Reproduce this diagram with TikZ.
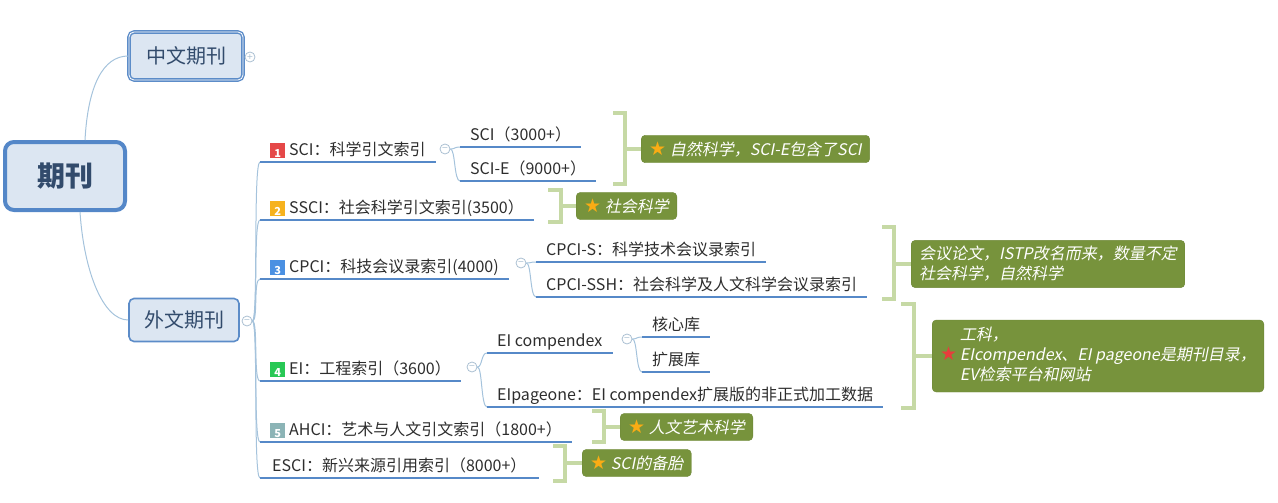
\documentclass[tikz,border=0pt]{standalone}
\usepackage{fontspec}
\usepackage{xcolor}
\setmainfont{Noto Sans CJK SC}
\newfontfamily\noteit[FakeSlant=0.2]{Noto Sans CJK SC}
\newfontfamily\symfont{DejaVu Sans}
\usetikzlibrary{positioning}
\definecolor{rootblue}{RGB}{84,135,200}
\definecolor{topicblue}{RGB}{92,140,200}
\definecolor{topicfill}{RGB}{220,230,242}
\definecolor{inktext}{RGB}{45,45,45}
\definecolor{roottext}{RGB}{50,75,108}
\definecolor{branchblue}{RGB}{165,195,220}
\definecolor{ulineblue}{RGB}{86,137,200}
\definecolor{bracegreen}{RGB}{198,217,165}
\definecolor{notegreen}{RGB}{119,147,60}
\definecolor{starorange}{RGB}{250,172,20}
\definecolor{starred}{RGB}{232,60,60}
\definecolor{badgered}{RGB}{229,72,72}
\definecolor{badgeorange}{RGB}{246,178,30}
\definecolor{badgeblue}{RGB}{74,144,226}
\definecolor{badgegreen}{RGB}{40,200,85}
\definecolor{badgeteal}{RGB}{140,180,182}
\definecolor{foldgray}{RGB}{170,192,210}
\newcommand{\badge}[2]{{\setlength{\fboxsep}{0pt}\raisebox{-1.5pt}{\colorbox{#1}{\makebox[15pt]{\rule[-0.5pt]{0pt}{15pt}\textcolor{white}{\fontsize{11}{11}\selectfont\bfseries #2}}}}}\hspace{4pt}}
\newcommand{\hstar}[1]{{\symfont\fontsize{19}{19}\selectfont\textcolor{#1}{★}}}

\begin{document}
\begin{tikzpicture}[x=1pt, y=-1pt,
    root/.style={draw=rootblue, line width=4pt, fill=topicfill, rounded corners=9pt, minimum width=120pt, minimum height=68pt, font=\fontsize{28}{32}\selectfont\bfseries, text=roottext},
    main/.style={draw=topicblue, fill=topicfill, rounded corners=5pt, font=\fontsize{20}{24}\selectfont, text=roottext},
    topic/.style={anchor=south west, inner xsep=10pt, inner ysep=3pt, text height=12pt, text depth=3pt, font=\fontsize{16}{19}\selectfont, text=inktext},
    uline/.style={draw=ulineblue, line width=2.5pt},
    branch/.style={draw=branchblue, line width=1pt},
    fold/.style={circle, draw=foldgray, fill=white, line width=0.8pt, minimum size=10pt, inner sep=0pt, font=\symfont\fontsize{8}{8}\selectfont, text=foldgray},
    brace/.style={draw=bracegreen, line width=3.5pt},
    note/.style={fill=notegreen, draw=notegreen!92!black, rounded corners=4pt, anchor=west, inner xsep=8pt, inner ysep=6pt, text=white, font=\fontsize{16}{20}\selectfont\noteit, align=left}]

    \useasboundingbox (0,0) rectangle (1278,503);

    % Root and first level
    \node[root] (root) at (65,176) {期刊};
    \node[main, line width=1.4pt, double=white, double distance=0.8pt, minimum width=114pt, minimum height=48pt] (cn) at (186,56) {中文期刊};
    \node[main, line width=1.6pt, minimum width=110pt, minimum height=43pt] (fn) at (184,320) {外文期刊};
    \node[fold] (cnfold) at (250,57) {+};
    \node[fold] (fnfold) at (247,321) {−};

    % Index databases
    \node[topic] (sci) at (260,162) {\badge{badgered}{1}SCI：科学引文索引};
    \node[topic] (ssci) at (260,220) {\badge{badgeorange}{2}SSCI：社会科学引文索引(3500）};
    \node[topic] (cpci) at (260,279) {\badge{badgeblue}{3}CPCI：科技会议录索引(4000)};
    \node[topic] (ei) at (260,381) {\badge{badgegreen}{4}EI：工程索引（3600）};
    \node[topic] (ahci) at (260,442) {\badge{badgeteal}{5}AHCI：艺术与人文引文索引（1800+）};
    \node[topic, inner xsep=12pt] (esci) at (260,478) {ESCI：新兴来源引用索引（8000+）};

    \node[fold] (scifold) at (445,149) {−};
    \node[fold] (cpcifold) at (521,263) {−};
    \node[fold] (eifold) at (472,367) {−};
    \node[fold] (cpdfold) at (627,339) {−};

    % Sub databases
    \node[topic] (sci3) at (460,147) {SCI（3000+）};
    \node[topic] (scie) at (460,181) {SCI-E（9000+）};
    \node[topic] (cpcis) at (536,262) {CPCI-S：科学技术会议录索引};
    \node[topic] (cpcish) at (536,297) {CPCI-SSH：社会科学及人文科学会议录索引};
    \node[topic] (cpd) at (487,353) {EI compendex};
    \node[topic] (eip) at (487,407) {EIpageone：EI compendex扩展版的非正式加工数据};
    \node[topic] (core) at (642,337) {核心库};
    \node[topic] (ext) at (642,372) {扩展库};

    % Notes
    \node[note] (n1) at (641,149) {\hstar{starorange}\ 自然科学，SCI-E包含了SCI};
    \node[note] (n2) at (576,206) {\hstar{starorange}\ 社会科学};
    \node[note] (n3) at (911,264) {会议论文，ISTP改名而来，数量不定\\社会科学，自然科学};
    \node[note] (n4) at (932,356) {\hstar{starred}\,\begin{tabular}{@{}l@{}}工科，\\EIcompendex、EI pageone是期刊目录，\\EV检索平台和网站\end{tabular}};
    \node[note] (n5) at (620,427) {\hstar{starorange}\ 人文艺术科学};
    \node[note] (n6) at (582,463) {\hstar{starorange}\ SCI的备胎};

    % Connections
    \draw[branch] ([xshift=20pt]root.north) .. controls +(3,-55) and +(-25,0) .. (cn.west);
    \draw[branch] ([xshift=15pt]root.south) .. controls +(4,60) and +(-25,0) .. (fn.west);
    \foreach \t in {sci,ssci,cpci,ei,ahci,esci}
        \draw[branch] (fnfold.east) .. controls +(6,0) and +(-7,0) .. (\t.south west);
    \foreach \t in {sci3,scie}
        \draw[branch] (scifold.east) .. controls +(5,0) and +(-6,0) .. (\t.south west);
    \foreach \t in {cpcis,cpcish}
        \draw[branch] (cpcifold.east) .. controls +(5,0) and +(-6,0) .. (\t.south west);
    \foreach \t in {cpd,eip}
        \draw[branch] (eifold.east) .. controls +(5,0) and +(-6,0) .. (\t.south west);
    \foreach \t in {core,ext}
        \draw[branch] (cpdfold.east) .. controls +(5,0) and +(-6,0) .. (\t.south west);
    \foreach \t in {sci,ssci,cpci,ei,ahci,esci,sci3,scie,cpcis,cpcish,cpd,eip,core,ext}
        \draw[uline] (\t.south west) -- (\t.south east);

    % Summary brackets
    \draw[brace] (613,113) -| (625,184) -- (613,184);
    \draw[brace] (625,149) -- (n1.west);
    \draw[brace] (548,190) -| (561,222) -- (548,222);
    \draw[brace] (561,206) -- (n2.west);
    \draw[brace] (882,227) -| (894,299) -- (882,299);
    \draw[brace] (894,264) -- (n3.west);
    \draw[brace] (901,304) -| (914,408) -- (901,408);
    \draw[brace] (914,356) -- (n4.west);
    \draw[brace] (592,411) -| (604,442) -- (592,442);
    \draw[brace] (604,427) -- (n5.west);
    \draw[brace] (553,446) -| (565,481) -- (553,481);
    \draw[brace] (565,463) -- (n6.west);
\end{tikzpicture}
\end{document}
